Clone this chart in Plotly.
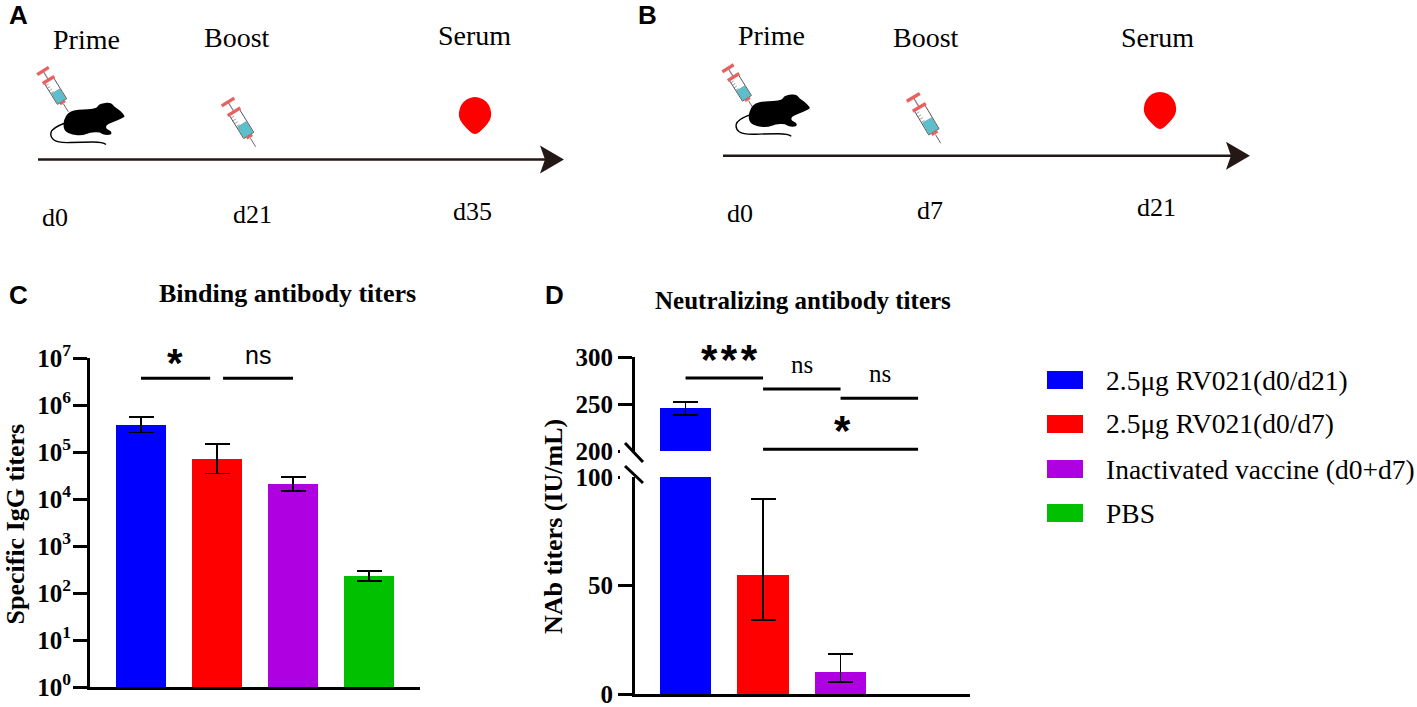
import math
import plotly.graph_objects as go

W, H = 1417, 707

GROUPS = ['2.5μg RV021(d0/d21)', '2.5μg RV021(d0/d7)', 'Inactivated vaccine (d0+d7)', 'PBS']
COLORS = ['#0000ff', '#ff0000', '#ae00e0', '#00c000']

# panel C, binding titers (log scale)
igg_pos = [0, 1, 2, 3]
igg_mean = [375000, 71000, 20500, 226]
igg_upper = [555000, 150000, 29500, 295]
igg_lower = [260000, 35000, 15000, 180]
igg_ticks = [1, 10, 100, 1000, 10000, 100000, 1000000, 10000000]
igg_ticktext = ['10<sup>%d</sup>' % i for i in range(8)]

# panel D, neutralizing titers (broken axis)
nab_pos = [0, 1, 2]
nab_mean = [245.4, 55, 10]
nab_upper = [252.4, 90, 18.3]
nab_lower = [238, 34, 5.5]
nab_ticks_low = [0, 50, 100]
nab_ticks_high = [200, 250, 300]

# significance lines: start, end, height
igg_brackets = [(0, 0.91, 3700000), (1.08, 2, 3700000)]
nab_brackets = [(0, 1, 277.7), (1, 2, 266), (2, 3, 256), (1, 3, 201.8)]

INK = '#231815'
SERIF = 'Liberation Serif'
SANS = 'Liberation Sans'


def px(x):
    return x / W


def py(y):
    return 1 - y / H


def path_d(points, close=True):
    d = 'M%.4f,%.4f ' % (px(points[0][0]), py(points[0][1]))
    d += ' '.join('L%.4f,%.4f' % (px(x), py(y)) for x, y in points[1:])
    return d + (' Z' if close else '')


def smooth_d(points, close=True):
    # quadratic curves through the midpoints of the outline
    pts = points + [points[0]] if close else points
    mid = [((a[0] + b[0]) / 2, (a[1] + b[1]) / 2) for a, b in zip(pts[:-1], pts[1:])]
    start = mid[0] if close else pts[0]
    d = 'M%.4f,%.4f ' % (px(start[0]), py(start[1]))
    if close:
        ctrl = pts[1:]
        ends = mid[1:] + [mid[0]]
    else:
        ctrl = pts[1:-1]
        ends = mid[1:] + [pts[-1]]
    for c, e in zip(ctrl, ends):
        d += 'Q%.4f,%.4f %.4f,%.4f ' % (px(c[0]), py(c[1]), px(e[0]), py(e[1]))
    return d + ('Z' if close else '')


shapes = []
annotations = []


def text(x, y, s, size, font=SERIF, bold=False, angle=0, color='black'):
    annotations.append(dict(x=px(x), y=py(y), xref='paper', yref='paper', text='<b>%s</b>' % s if bold else s,
                            showarrow=False, xanchor='center', yanchor='middle', textangle=angle,
                            font=dict(family=font, size=size, color=color)))


def seg(x0, y0, x1, y1, color, width):
    shapes.append(dict(type='line', xref='paper', yref='paper', x0=px(x0), y0=py(y0), x1=px(x1), y1=py(y1),
                       line=dict(color=color, width=width)))


def fill(d, color, line=None, width=0):
    shapes.append(dict(type='path', xref='paper', yref='paper', path=d, fillcolor=color,
                       line=dict(color=line or color, width=width)))


def syringe(x0, y0, x1, y1):
    # drawn along the axis from the plunger end to the needle tip
    L = ((x1 - x0) ** 2 + (y1 - y0) ** 2) ** 0.5
    ax, ay = (x1 - x0) / L, (y1 - y0) / L
    k = L / 48

    def at(t, u):
        return (x0 + (ax * t - ay * u) * k, y0 + (ay * t + ax * u) * k)

    def quad(t0, t1, u):
        return [at(t0, -u), at(t0, u), at(t1, u), at(t1, -u)]

    seg(*at(0, 0), *at(10, 0), '#777777', 1.2)
    seg(*at(39, 0), *at(48, 0), '#666666', 1)
    fill(path_d(quad(11, 36, 5.4)), 'white', '#555555', 1)
    for t in (14, 17, 20, 23):
        seg(*at(t, 2), *at(t, 5.4), '#777777', 0.7)
    fill(path_d(quad(24, 35.5, 4.7)), '#5cc0cc', '#4a8f99', 0.5)
    fill(path_d(quad(36, 38.5, 3)), '#e8605f')
    seg(*at(0, -6.8), *at(0, 6.8), '#e8605f', 3.4)
    seg(*at(10.5, -6.8), *at(10.5, 6.8), '#e8605f', 3.4)


def mouse(dx, dy):
    body = [(124.5, 115.5), (120, 110.5), (114, 106.5), (112.5, 104), (109, 102.5), (104, 103), (98.5, 104.5), (97, 108),
            (88, 109.5), (78, 109.5), (70, 111.5), (65.5, 116), (63, 124), (64.5, 131), (72, 135), (83, 135.5), (90, 132.5),
            (100, 132), (103, 135), (111.5, 135), (111.5, 131), (106, 129), (106, 125), (112, 122.5), (118, 120),
            (124.5, 117)]
    tail = [(65, 123), (52, 128), (50, 137), (58, 143), (83, 142), (103, 142), (109, 147)]
    fill(smooth_d([(x + dx, y + dy) for x, y in body]), 'black')
    shapes.append(dict(type='path', xref='paper', yref='paper', path=smooth_d([(x + dx, y + dy) for x, y in tail], False),
                       line=dict(color='black', width=1.4)))


def drop(cx, cy, tip_y):
    r = 16.5
    pts = [(cx + r * math.cos(math.radians(a)), cy + r * math.sin(math.radians(a))) for a in range(180, 390, 30)]
    pts += [(cx + 15.5, cy + 7), (cx + 9, cy + 15), (cx, tip_y + 2), (cx - 9, cy + 15), (cx - 15.5, cy + 7)]
    fill(smooth_d(pts), '#ff0000')


def timeline(x0, x1, y):
    seg(x0, y, x1 - 14, y, INK, 2.6)
    fill(path_d([(x1, y), (x1 - 24, y - 14), (x1 - 19, y), (x1 - 24, y + 14)]), INK)


# panels A and B
text(18, 15, 'A', 26, SANS, True)
text(86, 40, 'Prime', 28)
text(237, 37, 'Boost', 28)
text(474, 36, 'Serum', 28)
text(55, 217, 'd0', 26)
text(252, 215, 'd21', 26)
text(472, 212, 'd35', 26)
timeline(38, 564, 159.5)
syringe(43, 71, 68.3, 111.7)
syringe(228, 102, 255.6, 146.6)
mouse(0, 0)
drop(475, 113, 134)

text(647, 15, 'B', 26, SANS, True)
text(771, 36, 'Prime', 28)
text(926, 38, 'Boost', 28)
text(1157, 38, 'Serum', 28)
text(740, 213, 'd0', 26)
text(930, 210, 'd7', 26)
text(1156, 207, 'd21', 26)
timeline(723, 1250, 155.7)
syringe(728, 68.3, 753.3, 108.3)
syringe(913.3, 97.3, 940.7, 143.3)
mouse(685.3, -8.3)
drop(1160, 108, 129)

# panel letters, titles, y titles
text(18, 295, 'C', 26, SANS, True)
text(287, 293, 'Binding antibody titers', 26, SERIF, True)
text(14.5, 524, 'Specific IgG titers', 26, SERIF, True, -90)
text(554, 295, 'D', 26, SANS, True)
text(803, 301, 'Neutralizing antibody titers', 25, SERIF, True)
text(553, 527, 'NAb titers (IU/mL)', 26, SERIF, True, -90)

# significance marks
text(175, 363, '*', 40, SANS, True)
text(258, 355, 'ns', 25, SANS)
text(729, 359, '*\u200a*\u200a*', 42, SANS, True)
text(802, 365, 'ns', 25)
text(880, 374, 'ns', 25)
text(842, 431, '*', 42, SANS, True)

# axis break: no ticks at 200 and 100, only the slashes
seg(620, 451, 632, 451, 'white', 5)
seg(620, 477, 632, 477, 'white', 5)
seg(625, 443, 643, 462, 'black', 3)
seg(625, 466, 643, 483, 'black', 3)

# legend
for i, name in enumerate(GROUPS):
    yc = [380, 424, 469, 513][i]
    shapes.append(dict(type='rect', xref='paper', yref='paper', x0=px(1047), x1=px(1083), y0=py(yc - 9), y1=py(yc + 9),
                       fillcolor=COLORS[i], line=dict(width=0)))
    annotations.append(dict(x=px(1104), y=py(yc), xref='paper', yref='paper', text=name, showarrow=False,
                            xanchor='left', yanchor='middle', font=dict(family=SERIF, size=27.5, color='black')))

fig = go.Figure()


def err(mean, upper, lower):
    return dict(type='data', symmetric=False, array=[u - m for u, m in zip(upper, mean)],
                arrayminus=[m - l for m, l in zip(mean, lower)], color='black', thickness=1.6, width=12.5)


fig.add_trace(go.Bar(x=igg_pos, y=igg_mean, width=0.67, marker=dict(color=COLORS, line=dict(width=0)),
                     error_y=err(igg_mean, igg_upper, igg_lower), xaxis='x', yaxis='y'))
for a, b, h in igg_brackets:
    fig.add_trace(go.Scatter(x=[a, b], y=[h, h], mode='lines', line=dict(color='black', width=3), xaxis='x', yaxis='y'))

for axis in ('y2', 'y3'):
    fig.add_trace(go.Bar(x=nab_pos, y=nab_mean, width=0.66, marker=dict(color=COLORS[:3], line=dict(width=0)),
                         error_y=err(nab_mean, nab_upper, nab_lower), xaxis='x2', yaxis=axis))
for a, b, h in nab_brackets:
    fig.add_trace(go.Scatter(x=[a, b], y=[h, h], mode='lines', line=dict(color='black', width=3), xaxis='x2', yaxis='y3'))

tickfont = dict(family=SERIF, size=25, color='black')
yax = dict(showgrid=False, zeroline=False, showline=True, linecolor='black', linewidth=3, ticks='outside', ticklen=14,
           tickwidth=3, tickcolor='black', tickfont=tickfont, tickmode='array', fixedrange=True, automargin=False,
           ticklabeloverflow='allow')
xax = dict(showgrid=False, zeroline=False, showline=True, linecolor='black', linewidth=3, ticks='', showticklabels=False,
           fixedrange=True, automargin=False)

fig.update_layout(
    width=W, height=H, margin=dict(l=0, r=0, t=0, b=0), showlegend=False, plot_bgcolor='white', paper_bgcolor='white',
    xaxis=dict(xax, domain=[px(90), px(420)], range=[-0.671, 3.671], anchor='y'),
    yaxis=dict(yax, domain=[py(687), py(358)], type='log', range=[0, 7], tickvals=igg_ticks, ticklabelstandoff=-3,
               ticktext=['<b>%s</b>' % t for t in igg_ticktext], anchor='x'),
    xaxis2=dict(xax, domain=[px(635), px(970)], range=[-0.652, 3.67], anchor='y2'),
    yaxis2=dict(yax, domain=[py(694), py(477)], range=[0, 100], tickvals=nab_ticks_low,
                ticktext=['<b>%d</b>' % t for t in nab_ticks_low], anchor='x2'),
    yaxis3=dict(yax, domain=[py(451), py(357)], range=[200, 300], tickvals=nab_ticks_high,
                ticktext=['<b>%d</b>' % t for t in nab_ticks_high], anchor='x2'),
    shapes=shapes, annotations=annotations, bargap=0,
)

# the page's default body margin would push the figure out of the window
fig.write_html("out.html", config=dict(displayModeBar=False), post_script="document.body.style.margin = '0';")
